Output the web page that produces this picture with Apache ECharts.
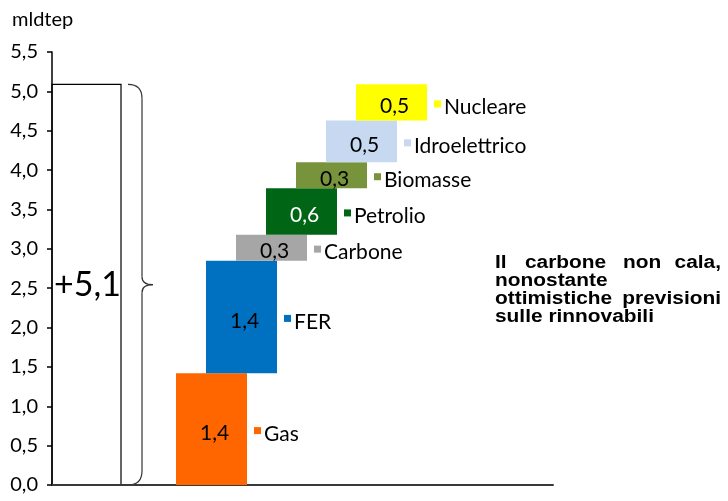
<!DOCTYPE html>
<html>
<head>
	<meta charset="UTF-8">
	<title>Waterfall mld tep</title>
	<script src="https://cdn.jsdelivr.net/npm/echarts@6/dist/echarts.min.js"></script>
</head>
<body style="margin:0">
	<div id="chart1" style="width:728px;height:501px;"></div>
<script type="text/javascript">
	// dati
	var categories = ['Gas', 'FER', 'Carbone', 'Petrolio', 'Biomasse', 'Idroelettrico', 'Nucleare'];
	var values = [1.42, 1.43, 0.33, 0.59, 0.33, 0.53, 0.46];
	var colors = ['#FF6600', '#0070C0', '#A6A6A6', '#006616', '#77933C', '#C6D9F1', '#FFFF00'];
	var labelColors = ['#000', '#000', '#000', '#fff', '#000', '#000', '#000'];
	var unitLabel = 'mldtep';
	var noteLines = [
		['Il', 'carbone', 'non', 'cala,'],
		['nonostante'],
		['ottimistiche', 'previsioni'],
		['sulle rinnovabili']
	];

	function fmt(v) {
		return v.toFixed(1).replace('.', ',');
	}

	// base cumulata per il waterfall
	var data = [];
	var total = 0;
	for (var i = 0; i < values.length; i++) {
		data.push([i, total, values[i]]);
		total += values[i];
	}

	var FONT = 'Lato';
	var chart1 = echarts.init(document.getElementById('chart1'));

	var option = {
		animation: false,
		grid: { left: 52, right: 175, top: 52, bottom: 16 },
		xAxis: {
			type: 'value',
			min: -5.317,
			max: 11.383,
			axisLine: { show: true, lineStyle: { color: '#3a3a3a', width: 2 } },
			axisTick: { show: false },
			axisLabel: { show: false },
			splitLine: { show: false }
		},
		yAxis: {
			type: 'value',
			min: 0,
			max: 5.5,
			interval: 0.5,
			axisLine: { show: true, onZero: false, lineStyle: { color: '#000', width: 1.5 } },
			axisTick: { show: true, length: 5, lineStyle: { color: '#000', width: 1.5 } },
			axisLabel: {
				color: '#000', fontFamily: FONT, fontSize: 20, margin: 14,
				formatter: function (v) { return fmt(v); }
			},
			splitLine: { show: false }
		},
		series: [{
			type: 'custom',
			data: data,
			renderItem: function (params, api) {
				var idx = api.value(0);
				var base = api.value(1);
				var v = api.value(2);
				var p0 = api.coord([idx, base]);
				var p1 = api.coord([idx, base + v]);
				var w = 71;
				var mid = (p0[1] + p1[1]) / 2;
				var right = p0[0] + w / 2;
				return {
					type: 'group',
					children: [{
						type: 'rect',
						shape: { x: p0[0] - w / 2, y: p1[1], width: w, height: p0[1] - p1[1] },
						style: { fill: colors[idx] }
					}, {
						type: 'text',
						style: {
							text: fmt(v), x: p0[0] + 3, y: mid + 4,
							align: 'center', verticalAlign: 'middle',
							fill: labelColors[idx], font: '21px ' + FONT
						}
					}, {
						type: 'rect',
						shape: { x: right + 7, y: mid - 2, width: 7, height: 7 },
						style: { fill: colors[idx] }
					}, {
						type: 'text',
						style: {
							text: categories[idx], x: right + 17, y: mid + 5,
							align: 'left', verticalAlign: 'middle',
							fill: '#000', font: '21px ' + FONT
						}
					}]
				};
			}
		}]
	};
	chart1.setOption(option);

	// riquadro, parentesi graffa e testi
	var yTop = chart1.convertToPixel({ yAxisIndex: 0 }, total);
	var yBot = chart1.convertToPixel({ yAxisIndex: 0 }, 0);
	var yMid = (yTop + yBot) / 2;
	var bx = 142;
	var braceStyle = { fill: 'none', stroke: '#333', lineWidth: 1.2 };
	function curve(x1, y1, cx, cy, x2, y2) {
		return { type: 'bezierCurve', shape: { x1: x1, y1: y1, cpx1: cx, cpy1: cy, x2: x2, y2: y2 }, style: braceStyle };
	}
	function seg(x1, y1, x2, y2) {
		return { type: 'line', shape: { x1: x1, y1: y1, x2: x2, y2: y2 }, style: braceStyle };
	}

	var graphics = [{
		type: 'rect',
		shape: { x: 52, y: yTop, width: 69, height: yBot - yTop },
		style: { fill: 'none', stroke: '#000', lineWidth: 1.2 }
	},
		curve(128, yTop, bx, yTop, bx, yTop + 14),
		seg(bx, yTop + 14, bx, yMid - 8),
		curve(bx, yMid - 8, bx, yMid, 153, yMid),
		curve(153, yMid, bx, yMid, bx, yMid + 8),
		seg(bx, yMid + 8, bx, yBot - 14),
		curve(bx, yBot - 14, bx, yBot, 128, yBot),
	{
		type: 'text',
		style: {
			text: '+' + fmt(total), x: 54, y: yMid, verticalAlign: 'middle',
			font: '34px ' + FONT, fill: '#000'
		}
	}, {
		type: 'text',
		style: {
			text: unitLabel, x: 12, y: 20, verticalAlign: 'middle',
			font: '20px ' + FONT, fill: '#000'
		}
	}];

	// nota a destra, giustificata a mano (testo un po' allargato come nell'originale)
	var noteX = [[495, 525, 623, 721], [495], [495, 721], [495]];
	var noteY = [263, 281, 299, 317];
	noteLines.forEach(function (words, li) {
		words.forEach(function (w, wi) {
			var last = words.length > 1 && wi === words.length - 1;
			graphics.push({
				type: 'text',
				x: noteX[li][wi],
				y: noteY[li],
				scaleX: 1.16,
				style: {
					text: w, x: 0, y: 0,
					align: last ? 'right' : 'left', verticalAlign: 'middle',
					font: 'bold 18px "Liberation Sans", Arial', fill: '#000'
				}
			});
		});
	});
	chart1.setOption({ graphic: graphics });
</script>
</body>
</html>
